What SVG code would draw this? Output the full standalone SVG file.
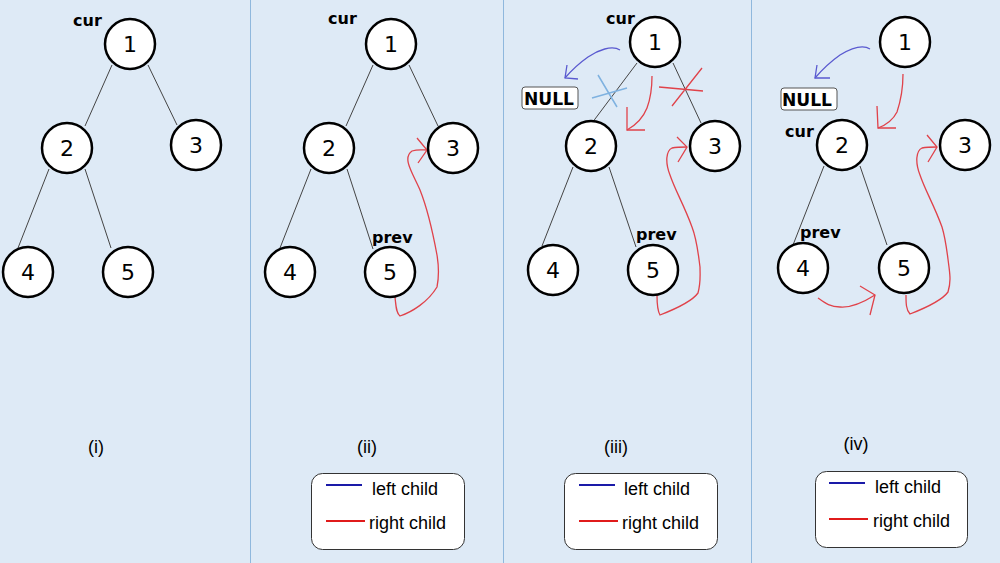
<svg xmlns="http://www.w3.org/2000/svg" width="1000" height="563" viewBox="0 0 1000 563">
<defs>
<style>
.bg{fill:#deeaf6}
.div{stroke:#8fb8dd;stroke-width:1}
.edge{stroke:#444;stroke-width:1;fill:none}
.node circle{fill:#fff;stroke:#000;stroke-width:2.5}
.node text{font-family:"DejaVu Sans",Verdana,sans-serif;font-size:22px;text-anchor:middle;fill:#000}
.ptr{font-family:"DejaVu Sans",Verdana,sans-serif;font-size:16px;font-weight:bold;fill:#000}
.red{stroke:#e0424a;stroke-width:1.3;fill:none}
.blue{stroke:#5a5ad0;stroke-width:1.3;fill:none}
.lblue{stroke:#7fb2e0;stroke-width:1.5;fill:none}
.cap{font-family:"Liberation Sans",Arial,sans-serif;font-size:18px;text-anchor:middle;fill:#000}
.leg rect{fill:#fff;stroke:#333;stroke-width:1}
.leg text{font-family:"Liberation Sans",Arial,sans-serif;font-size:17.5px;fill:#000}
.null rect{fill:#fff;stroke:#555;stroke-width:1}
.null text{font-family:"DejaVu Sans",Verdana,sans-serif;font-size:17px;font-weight:bold;fill:#000}
</style>
</defs>
<rect class="bg" x="0" y="0" width="1000" height="563"/>
<g id="dividers">
<line class="div" x1="250.5" y1="0" x2="250.5" y2="563"/>
<line class="div" x1="503.5" y1="0" x2="503.5" y2="563"/>
<line class="div" x1="751.5" y1="0" x2="751.5" y2="563"/>
</g>
<g id="connectors">
<!-- panel i -->
<line class="edge" x1="112" y1="65" x2="85" y2="126"/>
<line class="edge" x1="148" y1="65" x2="177" y2="125"/>
<line class="edge" x1="49" y1="169" x2="18" y2="248"/>
<line class="edge" x1="85" y1="169" x2="111" y2="248"/>
<!-- panel ii -->
<line class="edge" x1="373" y1="65" x2="346" y2="126"/>
<line class="edge" x1="409" y1="65" x2="438" y2="126"/>
<line class="edge" x1="311" y1="169" x2="280" y2="248"/>
<line class="edge" x1="347" y1="169" x2="373" y2="249"/>
<!-- panel iii -->
<line class="edge" x1="637" y1="63" x2="592" y2="123" />
<line class="edge" x1="673" y1="63" x2="701" y2="123"/>
<line class="edge" x1="573" y1="167" x2="542" y2="246"/>
<line class="edge" x1="609" y1="167" x2="636" y2="247"/>
<!-- panel iv -->
<line class="edge" x1="824" y1="166" x2="793" y2="245"/>
<line class="edge" x1="860" y1="166" x2="887" y2="245"/>
<!-- panel ii red -->
<path class="red" d="M395,297 C396,306 396,313 400,316 C412,312 428,302 437,287 C440,272 438,262 437,255 C432,228 428,210 420,190 C412,172 402,158 412,151 C418,149 423,150 427,150"/>
<path class="red" d="M417,138 L427,150 L418,163"/>
<!-- panel iii red -->
<path class="red" d="M657,295 C657,303 657,310 660,315 C678,308 693,300 698,293 C701,282 700,275 700,267 C698,252 697,240 692,227 C684,205 675,190 670,175 C665,162 666,151 672,148 C677,147 682,147 687,147"/>
<path class="red" d="M677,137 L687,147 L678,162"/>
<path class="red" d="M652,76 C652,90 650,100 647,108 C643,118 636,125 627,130"/>
<path class="red" d="M627,107 L627,130 L645,130"/>
<path class="blue" d="M620,50 C612,45 598,50 588,57 C578,64 571,71 565,78"/>
<path class="blue" d="M567,65 L565,78 L578,79"/>
<path class="lblue" d="M598,75 L617,107 M592,98 L627,88"/>
<path class="red" d="M702,68 L672,106 M659,87 L703,91"/>
<!-- panel iv red -->
<path class="red" d="M906,295 C906,303 906,310 910,314 C928,307 943,299 948,292 C951,282 950,275 949,267 C947,252 946,240 942,227 C934,205 925,190 920,175 C915,162 916,151 922,148 C927,147 932,147 937,147"/>
<path class="red" d="M927,135 L937,147 L928,162"/>
<path class="red" d="M903,74 C903,88 901,100 897,112 C893,120 886,125 878,128"/>
<path class="red" d="M877,106 L878,128 L896,128"/>
<path class="blue" d="M870,49 C862,44 850,49 840,55 C830,62 821,71 815,78"/>
<path class="blue" d="M817,65 L815,78 L830,78"/>
<path class="red" d="M818,298 C825,303 830,307 840,307 C852,308 864,302 875,295"/>
<path class="red" d="M860,286 L875,295 L870,315"/>
</g>
<!-- panel i nodes -->
<g id="p1-n1" class="node"><circle cx="130" cy="44" r="25"/><text x="130" y="52">1</text></g>
<g id="p1-n2" class="node"><circle cx="67" cy="148" r="25"/><text x="67" y="156">2</text></g>
<g id="p1-n3" class="node"><circle cx="196" cy="145" r="25"/><text x="196" y="153">3</text></g>
<g id="p1-n4" class="node"><circle cx="28" cy="272" r="25"/><text x="28" y="280">4</text></g>
<g id="p1-n5" class="node"><circle cx="128" cy="272" r="25"/><text x="128" y="280">5</text></g>
<text class="ptr" x="73" y="26">cur</text>
<!-- panel ii nodes -->
<g id="p2-n1" class="node"><circle cx="391" cy="44" r="25"/><text x="391" y="52">1</text></g>
<g id="p2-n2" class="node"><circle cx="329" cy="148" r="25"/><text x="329" y="156">2</text></g>
<g id="p2-n3" class="node"><circle cx="453" cy="148" r="25"/><text x="453" y="156">3</text></g>
<g id="p2-n4" class="node"><circle cx="290" cy="272" r="25"/><text x="290" y="280">4</text></g>
<g id="p2-n5" class="node"><circle cx="390" cy="272" r="25"/><text x="390" y="280">5</text></g>
<text class="ptr" x="328" y="24">cur</text>
<text class="ptr" x="372" y="243">prev</text>
<!-- panel iii nodes -->
<g id="p3-n1" class="node"><circle cx="655" cy="42" r="25"/><text x="655" y="50">1</text></g>
<g id="p3-n2" class="node"><circle cx="591" cy="146" r="25"/><text x="591" y="154">2</text></g>
<g id="p3-n3" class="node"><circle cx="715" cy="146" r="25"/><text x="715" y="154">3</text></g>
<g id="p3-n4" class="node"><circle cx="553" cy="270" r="25"/><text x="553" y="278">4</text></g>
<g id="p3-n5" class="node"><circle cx="653" cy="270" r="25"/><text x="653" y="278">5</text></g>
<text class="ptr" x="606" y="24">cur</text>
<text class="ptr" x="636" y="240">prev</text>
<g id="p3-null" class="null"><rect x="522" y="87" width="56" height="22" rx="3"/><text x="524" y="105" textLength="50" lengthAdjust="spacingAndGlyphs">NULL</text></g>
<!-- panel iv nodes -->
<g id="p4-n1" class="node"><circle cx="905" cy="42" r="25"/><text x="905" y="50">1</text></g>
<g id="p4-n2" class="node"><circle cx="842" cy="145" r="25"/><text x="842" y="153">2</text></g>
<g id="p4-n3" class="node"><circle cx="965" cy="145" r="25"/><text x="965" y="153">3</text></g>
<g id="p4-n4" class="node"><circle cx="803" cy="268" r="25"/><text x="803" y="276">4</text></g>
<g id="p4-n5" class="node"><circle cx="904" cy="268" r="25"/><text x="904" y="276">5</text></g>
<text class="ptr" x="785" y="137">cur</text>
<text class="ptr" x="800" y="238">prev</text>
<g id="p4-null" class="null"><rect x="781" y="88" width="56" height="22" rx="3"/><text x="782" y="106" textLength="50" lengthAdjust="spacingAndGlyphs">NULL</text></g>
<!-- captions -->
<text class="cap" x="96" y="453">(i)</text>
<text class="cap" x="367" y="453">(ii)</text>
<text class="cap" x="616" y="453">(iii)</text>
<text class="cap" x="856" y="450">(iv)</text>
<!-- legends -->
<g id="legend-ii" class="leg">
<rect x="311.5" y="473.5" width="153" height="76" rx="11"/>
<line x1="326" y1="485" x2="362" y2="485" stroke="#1a1aa8" stroke-width="2"/>
<text x="372" y="495" textLength="66" lengthAdjust="spacingAndGlyphs">left child</text>
<line x1="326" y1="521" x2="365" y2="521" stroke="#e01b1b" stroke-width="2"/>
<text x="369" y="529" textLength="77" lengthAdjust="spacingAndGlyphs">right child</text>
</g>
<g id="legend-iii" class="leg">
<rect x="564.5" y="473.5" width="153" height="76" rx="11"/>
<line x1="579" y1="485" x2="615" y2="485" stroke="#1a1aa8" stroke-width="2"/>
<text x="624" y="495" textLength="66" lengthAdjust="spacingAndGlyphs">left child</text>
<line x1="579" y1="521" x2="618" y2="521" stroke="#e01b1b" stroke-width="2"/>
<text x="622" y="529" textLength="77" lengthAdjust="spacingAndGlyphs">right child</text>
</g>
<g id="legend-iv" class="leg">
<rect x="815.5" y="471.5" width="152" height="76" rx="11"/>
<line x1="829" y1="483" x2="865" y2="483" stroke="#1a1aa8" stroke-width="2"/>
<text x="875" y="493" textLength="66" lengthAdjust="spacingAndGlyphs">left child</text>
<line x1="829" y1="519" x2="868" y2="519" stroke="#e01b1b" stroke-width="2"/>
<text x="873" y="527" textLength="77" lengthAdjust="spacingAndGlyphs">right child</text>
</g>
</svg>
